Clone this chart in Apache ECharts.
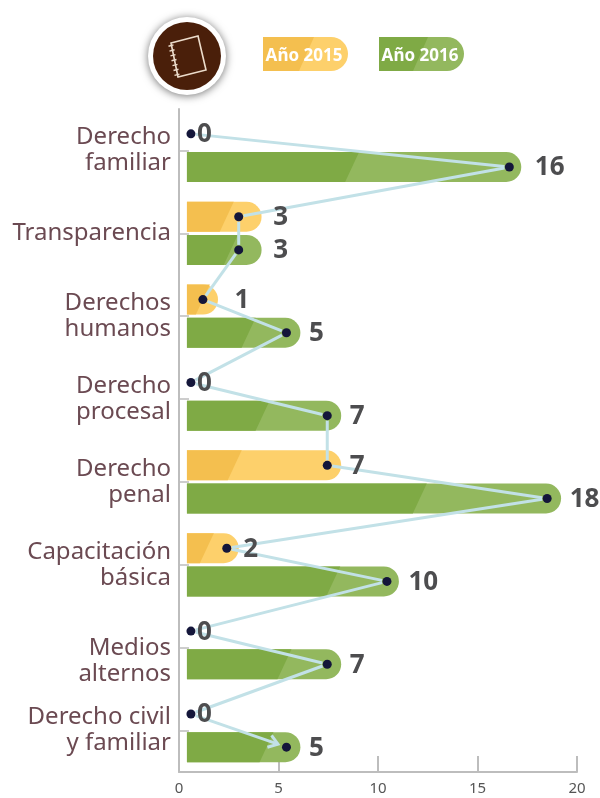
<!DOCTYPE html>
<html><head><meta charset="utf-8">
<style>html,body{margin:0;padding:0;background:#fff}#c{width:600px;height:798px}</style>
<script src="https://cdn.jsdelivr.net/npm/echarts@6/dist/echarts.min.js"></script>
</head><body><div id="c"></div>
<script>
// Category names and the printed values
const categories = ['Derecho\nfamiliar','Transparencia','Derechos\nhumanos','Derecho\nprocesal','Derecho\npenal','Capacitación\nbásica','Medios\nalternos','Derecho civil\ny familiar'];
const printed2015 = [0,3,1,0,7,2,0,0];
const printed2016 = [16,3,5,7,18,10,7,5];
// Where the marks sit on the 0-20 axis
const dot2015 = [0.6,3.0,1.2,0.6,7.45,2.4,0.6,0.6];
const dot2016 = [16.6,3.0,5.4,7.45,18.5,10.45,7.45,5.4];
const barEnd2015 = [0,4.15,1.96,0,8.15,3.0,0,0];
const barEnd2016 = [17.2,4.15,6.1,8.15,19.2,11.05,8.15,6.1];
const shade2015 = [0,2.4,1.2,0,2.8,1.4,0,0];
const shade2016 = [8.7,2.6,3.5,4.2,12.1,7.75,5.3,4.4];
const xTicks = [0,5,10,15,20];
const legendNames = ['Año 2015','Año 2016'];

const ROW = 0.2, BAR_START = 0.4, BAR_H = 30;
const pal = {a:{dark:'#f4bf4f',light:'#fdd06b'},b:{dark:'#7faa45',light:'#93b85e'}};
const gapByValue = {0:1.5,1:27,2:12,3:30,5:18,7:18,10:17,16:21,18:18};
const FONT = '"Noto Sans"';

function barData(ends,shades,sign,key){
  return categories.map((c,i)=>[ends[i],i+sign*ROW,shades[i],key]);
}
function renderBar(p,api){
  const end=api.value(0); if(!end) return null;
  const y=api.value(1), sh=api.value(2), k=api.value(3)===0?pal.a:pal.b;
  const a=api.coord([BAR_START,y]), b=api.coord([end,y]), s=api.coord([sh,y]);
  const t=a[1]-BAR_H/2, bt=a[1]+BAR_H/2, sl=7;
  return {type:'group',children:[
    {type:'rect',shape:{x:a[0],y:t,width:b[0]-a[0],height:BAR_H,r:[0,15,15,0]},style:{fill:k.light}},
    {type:'polygon',shape:{points:[[a[0],t],[s[0]+sl,t],[s[0]-sl,bt],[a[0],bt]]},style:{fill:k.dark}}
  ]};
}
const path=[]; categories.forEach((c,i)=>{path.push([dot2015[i],i-ROW]);path.push([dot2016[i],i+ROW]);});
function renderLink(p,api){
  const i=p.dataIndex; if(i>=path.length-1) return null;
  const A=api.coord(path[i]), B=api.coord(path[i+1]);
  const dx=B[0]-A[0], dy=B[1]-A[1], L=Math.hypot(dx,dy), ux=dx/L, uy=dy/L;
  const last=i===path.length-2, e=last?9:5;
  const P=[A[0]+ux*5,A[1]+uy*5], Q=[B[0]-ux*e,B[1]-uy*e];
  const st={stroke:'#c2e1e7',lineWidth:3,fill:null};
  const kids=[{type:'line',shape:{x1:P[0],y1:P[1],x2:Q[0],y2:Q[1]},style:st}];
  if(last){
    const w=9, nx=-uy, ny=ux;
    kids.push({type:'polyline',shape:{points:[
      [Q[0]-ux*w+nx*w*0.7,Q[1]-uy*w+ny*w*0.7],Q,[Q[0]-ux*w-nx*w*0.7,Q[1]-uy*w-ny*w*0.7]]},style:st});
  }
  return {type:'group',children:kids};
}
function dotSeries(dots,vals,sign){
  return {type:'scatter',xAxisIndex:0,yAxisIndex:1,symbolSize:9,z:5,silent:true,clip:false,
    itemStyle:{color:'#14163a',opacity:1},
    data:dots.map((d,i)=>({value:[d,i+sign*ROW],printed:vals[i],
      label:{show:true,position:'right',distance:gapByValue[vals[i]],formatter:String(vals[i]),
        offset:[0,1],fontFamily:FONT,fontWeight:'bold',fontSize:26,color:'#4d4d4f'}}))};
}
function pill(x,label,k){
  const y=37,w=85,h=34,sx=x+(k===pal.a?44:42);
  return [
    {type:'rect',left:x,top:y,shape:{width:w,height:h,r:[0,17,17,0]},style:{fill:k.light},z:10},
    {type:'polygon',shape:{points:[[x,y],[sx+7,y],[sx-8,y+h],[x,y+h]]},style:{fill:k.dark},z:10},
    {type:'text',x:x+41,y:y+19,style:{text:label,fill:'#fff',font:'bold 17px '+FONT,align:'center',verticalAlign:'middle'},z:11}
  ];
}
// Notebook badge
const badge=[
  {type:'circle',shape:{cx:187,cy:56,r:39},style:{fill:'#fff',shadowBlur:8,shadowColor:'rgba(0,0,0,.55)',shadowOffsetY:1},z:10},
  {type:'circle',shape:{cx:187,cy:56,r:34},style:{fill:'#4a1f0a'},z:11},
  {type:'polygon',shape:{points:[[171,43],[198,36],[206,70],[178,77]]},style:{fill:'none',stroke:'#ecdccb',lineWidth:1.6},z:12}
];
[0,1,2,3,4,5,6].forEach(n=>{
  const t=(n+0.5)/7, x=171+7*t, y=43+34*t;
  badge.push({type:'line',shape:{x1:x-3,y1:y+0.8,x2:x+2,y2:y-0.5},style:{stroke:'#ecdccb',lineWidth:1.4},z:12});
});

const chart=echarts.init(document.getElementById('c'),null,{renderer:'canvas'});
chart.setOption({
  animation:false,backgroundColor:'#fff',
  grid:{left:179,top:109,width:398,height:663,containLabel:false},
  xAxis:{type:'value',position:'bottom',min:xTicks[0],max:xTicks[xTicks.length-1],interval:5,
    axisLine:{show:true,onZero:false,lineStyle:{color:'#bdbdbd',width:2}},
    axisTick:{show:true,inside:true,length:16,lineStyle:{color:'#bdbdbd',width:2}},
    splitLine:{show:false},
    axisLabel:{color:'#555',fontSize:15,fontFamily:FONT,margin:9,hideOverlap:false,showMinLabel:true,showMaxLabel:true}},
  yAxis:[
    {type:'category',data:categories,inverse:true,
      axisLine:{show:true,onZero:false,lineStyle:{color:'#bdbdbd',width:2}},
      axisTick:{show:true,inside:true,length:10,alignWithLabel:true,lineStyle:{color:'#bdbdbd',width:1.5}},
      axisLabel:{color:'#6b4a52',fontSize:24,lineHeight:26,fontFamily:FONT,margin:8,align:'right',interval:0,padding:[3,0,0,0],
        // "Medios alternos" sits one half line lower than the other labels in the reference
        formatter:v=>v.indexOf('Medios')===0?'\n'+v:v}},
    {type:'value',show:false,inverse:true,min:-0.5,max:7.5}
  ],
  series:[
    {type:'custom',name:legendNames[0],xAxisIndex:0,yAxisIndex:1,renderItem:renderBar,z:2,silent:true,clip:false,encode:{x:0,y:1},
      data:barData(barEnd2015,shade2015,-1,0)},
    {type:'custom',name:legendNames[1],xAxisIndex:0,yAxisIndex:1,renderItem:renderBar,z:2,silent:true,clip:false,encode:{x:0,y:1},
      data:barData(barEnd2016,shade2016,1,1)},
    {type:'custom',xAxisIndex:0,yAxisIndex:1,renderItem:renderLink,z:3,silent:true,clip:false,encode:{x:0,y:1},data:path},
    dotSeries(dot2015,printed2015,-1),
    dotSeries(dot2016,printed2016,1)
  ],
  graphic:{elements:[...badge,...pill(263,legendNames[0],pal.a),...pill(379,legendNames[1],pal.b)]}
});
</script></body></html>
